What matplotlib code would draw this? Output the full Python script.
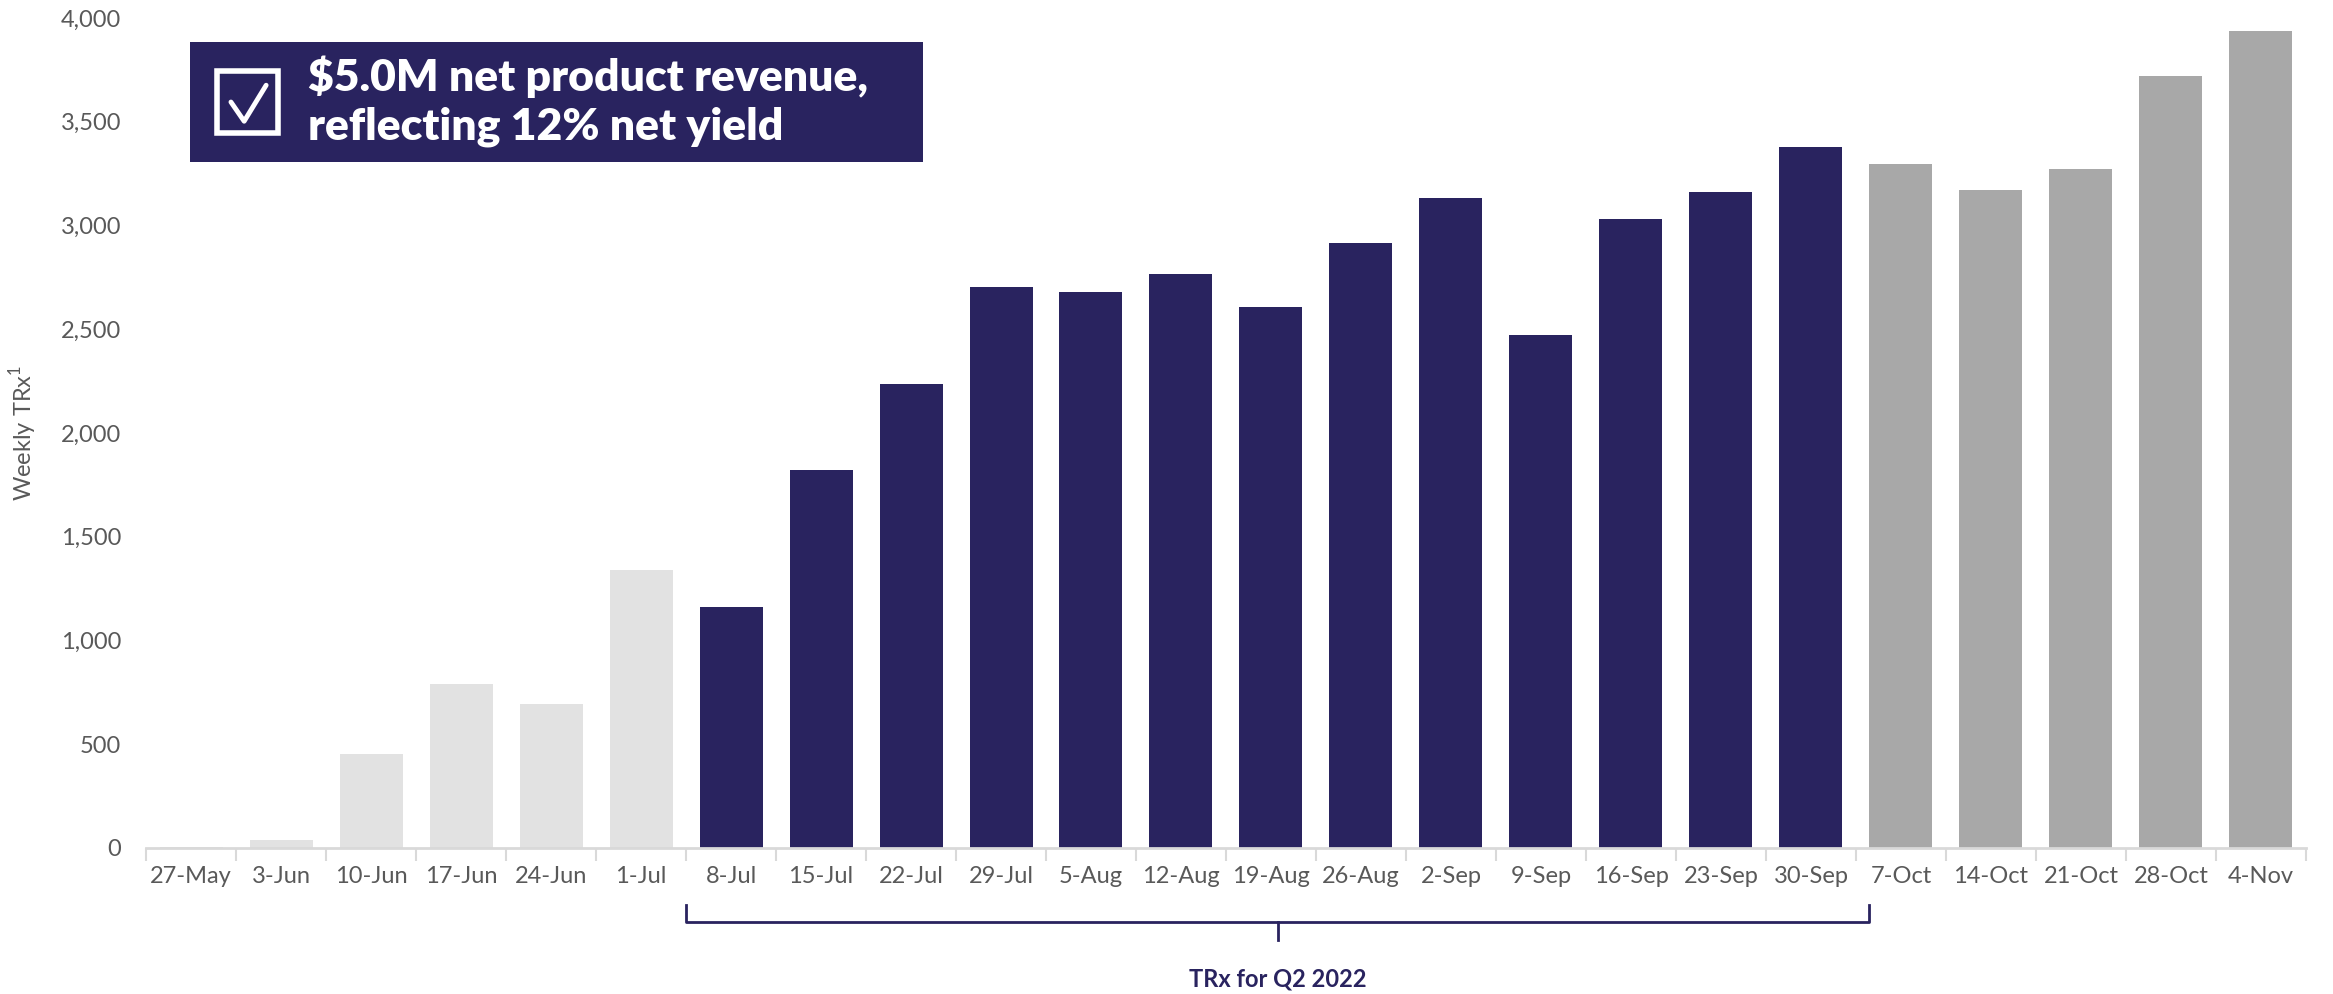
import matplotlib
matplotlib.use("Agg")
import matplotlib.pyplot as plt
import matplotlib.transforms as mtransforms
from matplotlib.patches import Rectangle

weeks = ["27-May", "3-Jun", "10-Jun", "17-Jun", "24-Jun", "1-Jul", "8-Jul",
         "15-Jul", "22-Jul", "29-Jul", "5-Aug", "12-Aug", "19-Aug", "26-Aug",
         "2-Sep", "9-Sep", "16-Sep", "23-Sep", "30-Sep", "7-Oct", "14-Oct",
         "21-Oct", "28-Oct", "4-Nov"]
trx = [3, 38, 452, 789, 695, 1340, 1161, 1821, 2237, 2703, 2681, 2767, 2609,
       2918, 3133, 2473, 3032, 3161, 3377, 3298, 3173, 3274, 3721, 3938]
# period of each week: pre = before quarter, q = quarter, post = after
period = ["pre"] * 6 + ["q"] * 13 + ["post"] * 5

NAVY = "#29235F"
colors = {"pre": "#E2E2E2", "q": NAVY, "post": "#A8A8A8"}
TEXT = "#595959"
AXIS = "#D9D9D9"

plt.rcParams["font.family"] = ["Lato", "DejaVu Sans"]

fig = plt.figure(figsize=(23.33, 9.94), dpi=100)
ax = fig.add_axes([0.0626, 0.1469, 0.9258, 0.835])

x = list(range(len(weeks)))
ax.bar(x, trx, width=0.7, color=[colors[p] for p in period])

ax.set_xlim(-0.5, len(weeks) - 0.5)
ax.set_ylim(0, 4000)
ax.set_yticks(range(0, 4001, 500))
ax.set_yticklabels([f"{v:,}" for v in range(0, 4001, 500)])
ax.set_xticks(x)
ax.set_xticklabels(weeks)
ax.set_xticks([i - 0.5 for i in range(len(weeks) + 1)], minor=True)

ax.tick_params(axis="x", which="major", length=0, pad=13, labelsize=17, labelcolor=TEXT)
ax.tick_params(axis="x", which="minor", length=9, width=1.5, color=AXIS)
ax.tick_params(axis="y", length=0, pad=18, labelsize=17, labelcolor=TEXT)

for s in ["top", "right", "left"]:
    ax.spines[s].set_visible(False)
ax.spines["bottom"].set_color(AXIS)
ax.spines["bottom"].set_linewidth(2)

ax.set_ylabel(r"Weekly TRx$^{\mathregular{1}}$", fontsize=17, color=TEXT)
ax.yaxis.set_label_coords(-0.0495, 0.5)

# brace under the quarter weeks
trans = mtransforms.blended_transform_factory(ax.transData, fig.transFigure)
q_idx = [i for i, p in enumerate(period) if p == "q"]
x0, x1 = q_idx[0] - 0.5, q_idx[-1] + 0.65
xm = (x0 + x1) / 2
y_top, y_mid, y_tip = 0.0895, 0.072, 0.054
ax.plot([x0, x0, x1, x1], [y_top, y_mid, y_mid, y_top], color=NAVY, lw=2,
        transform=trans, clip_on=False)
ax.plot([xm, xm], [y_mid, y_tip], color=NAVY, lw=2, transform=trans, clip_on=False)
ax.text(xm, 0.015, "TRx for Q2 2022", transform=trans, ha="center", va="center",
        fontsize=17, fontweight="bold", color=NAVY)

# callout box
box = fig.add_axes([0.0814, 0.837, 0.3142, 0.1207])
box.set_facecolor(NAVY)
box.set_xlim(0, 1)
box.set_ylim(0, 1)
box.set_xticks([])
box.set_yticks([])
for s in box.spines.values():
    s.set_visible(False)
box.add_patch(Rectangle((0.037, 0.24), 0.083, 0.52, fill=False, ec="white", lw=4))
box.plot([0.056, 0.074, 0.104], [0.50, 0.34, 0.64], color="white", lw=3.5,
         solid_capstyle="round", solid_joinstyle="round")
box.text(0.161, 0.71, "$5.0M net product revenue,", color="white", fontsize=32,
         fontweight="heavy", va="center", ha="left")
box.text(0.161, 0.29, "reflecting 12% net yield", color="white", fontsize=32,
         fontweight="heavy", va="center", ha="left")

fig.savefig("out.png", dpi=100)
